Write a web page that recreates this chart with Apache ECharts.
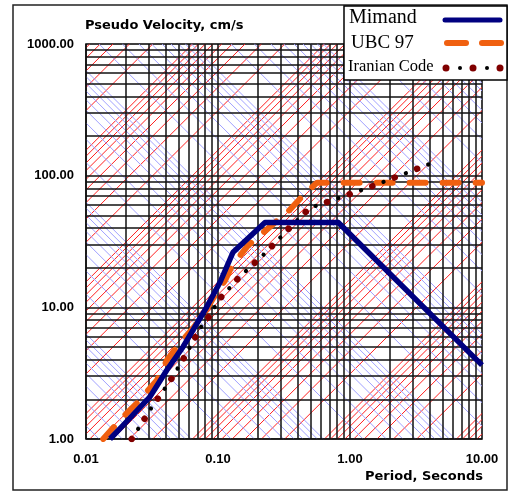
<!DOCTYPE html>
<html>
<head>
<meta charset="utf-8">
<script src="https://cdn.jsdelivr.net/npm/echarts@6/dist/echarts.min.js"></script>
<style>
html,body{margin:0;padding:0;background:#fff;}
#main{width:511px;height:495px;}
</style>
</head>
<body>
<div id="main"></div>
<script>
// period (s) / pseudo velocity (cm/s)
var mimandT=[0.0152,0.0187,0.0305,0.0409,0.0543,0.0821,0.1036,0.130,0.227,0.815,10];
var mimandV=[1.0,1.24,2.09,3.33,5.0,10.05,15.5,26.2,44.1,44.1,3.64];
var ubcT=[0.0135,0.0187,0.0248,0.0345,0.0411,0.0515,0.0647,0.0783,0.0917,0.113,0.128,0.169,0.345,0.44,0.5623,10];
var ubcV=[1.0,1.44,1.91,2.80,3.97,5.34,6.93,9.0,11.7,16.0,20.8,29.5,54.3,70.5,88.5,88.5];
var iranT=[0.0222,0.0316,0.0433,0.0573,0.0731,0.087,0.102,0.147,0.227,0.339,0.498,0.593,1.39,4.64];
var iranV=[1.0,1.75,2.75,4.40,6.93,8.7,11.5,17.2,25.7,39.0,57.2,60.3,81.2,130];
var gridMult=[1,2,3,4,5,6,7,8,9];

function pairs(t,v){
  var out=[];
  for(var i=0;i<t.length;i++) out.push([t[i],v[i]]);
  return out;
}

// tripartite grid, in log space: u=log10(T) in [-2,1], w=log10(V) in [0,3]
var uMin=-2,uMax=1,wMin=0,wMax=3;
var accK=981/(2*Math.PI);   // V = accK * A(g) * T
var dispK=2*Math.PI;        // V = dispK * D(cm) / T
var redSeg=[],blueSeg=[],blackSeg=[];
for(var dec=-6;dec<=6;dec++){
  gridMult.forEach(function(m){
    var val=m*Math.pow(10,dec);
    // acceleration lines, slope +1
    var c=Math.log10(accK*val);
    var a=Math.max(uMin,wMin-c),b=Math.min(uMax,wMax-c);
    if(a<b) redSeg.push({coords:[[Math.pow(10,a),Math.pow(10,a+c)],[Math.pow(10,b),Math.pow(10,b+c)]]});
    // displacement lines, slope -1
    var d=Math.log10(dispK*val);
    var a2=Math.max(uMin,d-wMax),b2=Math.min(uMax,d-wMin);
    if(a2<b2) blueSeg.push({coords:[[Math.pow(10,a2),Math.pow(10,d-a2)],[Math.pow(10,b2),Math.pow(10,d-b2)]]});
    // plain grid
    if(dec>=uMin&&dec<uMax) blackSeg.push({coords:[[val,1],[val,1000]]});
    if(dec>=wMin&&dec<wMax) blackSeg.push({coords:[[0.01,val],[10,val]]});
  });
}

var chart=echarts.init(document.getElementById('main'));
var option={
  backgroundColor:'#fff',
  animation:false,
  grid:{left:86,top:44,width:396,height:395,show:true,borderColor:'#000',borderWidth:1.5,backgroundColor:'#fff'},
  xAxis:{
    type:'log',min:0.01,max:10,logBase:10,
    axisLine:{show:false},axisTick:{show:false},splitLine:{show:false},
    axisLabel:{margin:14,color:'#000',fontFamily:'Arial',fontWeight:'bold',fontSize:13,
      formatter:function(v){return v.toFixed(2);}}
  },
  yAxis:{
    type:'log',min:1,max:1000,logBase:10,
    axisLine:{show:false},axisTick:{show:false},splitLine:{show:false},
    axisLabel:{margin:12,color:'#000',fontFamily:'Arial',fontWeight:'bold',fontSize:13,
      formatter:function(v){return v.toFixed(2);}}
  },
  series:[
    {type:'lines',coordinateSystem:'cartesian2d',silent:true,z:1,
      lineStyle:{color:'#ff2020',width:1,opacity:1},data:redSeg},
    {type:'lines',coordinateSystem:'cartesian2d',silent:true,z:1,
      lineStyle:{color:'#a0a0ff',width:1,opacity:1},data:blueSeg},
    {type:'lines',coordinateSystem:'cartesian2d',silent:true,z:2,
      lineStyle:{color:'#111',width:1.5,opacity:1},data:blackSeg},
    {name:'UBC 97',type:'line',z:4,symbol:'none',data:pairs(ubcT,ubcV),
      lineStyle:{color:'#f06010',width:6,type:[16,17],cap:'round'}},
    {name:'Iranian Code',type:'line',z:5,symbol:'none',data:pairs(iranT,iranV),
      lineStyle:{color:'#800000',width:6.5,type:[0.1,23.9],cap:'round'}},
    {name:'Iranian Code',type:'line',z:5,symbol:'none',data:pairs(iranT,iranV),
      lineStyle:{color:'#000',width:4.2,type:[0.1,23.9],dashOffset:-12,cap:'round'}},
    {name:'Mimand',type:'line',z:6,symbol:'none',data:pairs(mimandT,mimandV),
      lineStyle:{color:'#000080',width:5.5,join:'round'}}
  ],
  graphic:[
    {type:'rect',z:-1,shape:{x:13,y:5,width:494,height:485},style:{fill:'none',stroke:'#222',lineWidth:1.5}},
    {type:'text',left:85,top:19,style:{text:'Pseudo Velocity, cm/s',font:'bold 13px "DejaVu Sans"',fill:'#000'}},
    {type:'text',left:365,top:470,style:{text:'Period, Seconds',font:'bold 13px "DejaVu Sans"',fill:'#000'}},
    {type:'rect',z:100,shape:{x:344,y:6,width:163,height:74},style:{fill:'#fff',stroke:'#000',lineWidth:1.5}},
    {type:'text',z:101,x:349,y:18,style:{text:'Mimand',font:'20px "Liberation Serif"',fill:'#000',textVerticalAlign:'middle'}},
    {type:'text',z:101,x:351,y:43,style:{text:'UBC 97',font:'19px "Liberation Serif"',fill:'#000',textVerticalAlign:'middle'}},
    {type:'text',z:101,x:348,y:67,style:{text:'Iranian Code',font:'16.5px "Liberation Serif"',fill:'#000',textVerticalAlign:'middle'}},
    {type:'line',z:101,shape:{x1:445,y1:20,x2:500,y2:20},style:{stroke:'#000080',lineWidth:5,lineCap:'round'}},
    {type:'line',z:101,shape:{x1:447,y1:43,x2:466,y2:43},style:{stroke:'#f06010',lineWidth:6,lineCap:'round'}},
    {type:'line',z:101,shape:{x1:482,y1:43,x2:501,y2:43},style:{stroke:'#f06010',lineWidth:6,lineCap:'round'}},
    {type:'circle',z:101,shape:{cx:446,cy:68,r:3.5},style:{fill:'#800000'}},
    {type:'circle',z:101,shape:{cx:473,cy:68,r:3.5},style:{fill:'#800000'}},
    {type:'circle',z:101,shape:{cx:500,cy:68,r:3.5},style:{fill:'#800000'}},
    {type:'circle',z:101,shape:{cx:460,cy:68,r:2},style:{fill:'#000'}},
    {type:'circle',z:101,shape:{cx:487,cy:68,r:2},style:{fill:'#000'}}
  ]
};
chart.setOption(option);
</script>
</body>
</html>
